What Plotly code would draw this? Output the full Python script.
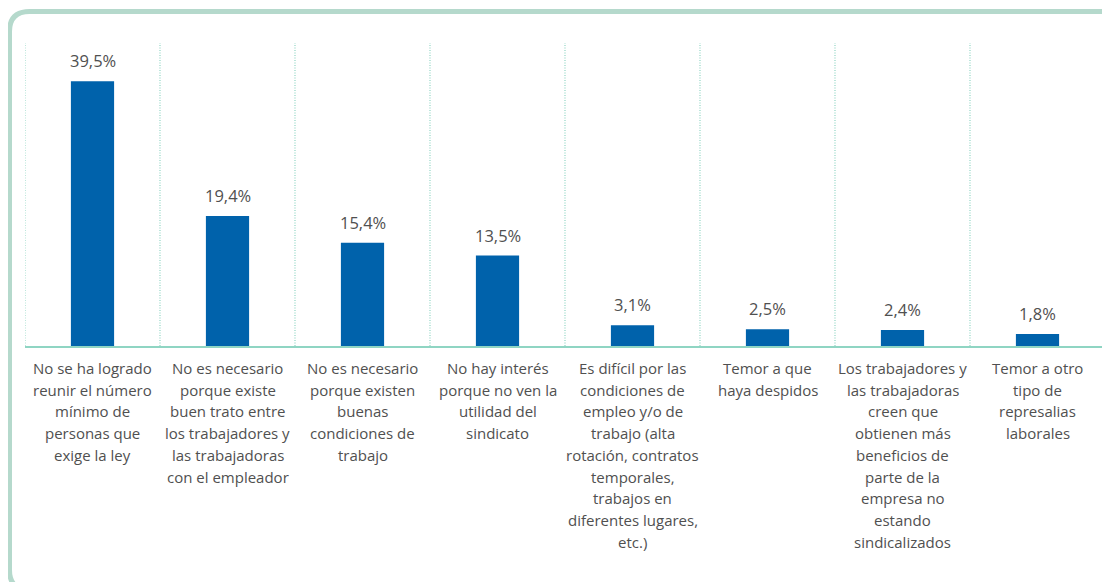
import plotly.graph_objects as go

# data
categories = [
    "No se ha logrado<br>reunir el número<br>mínimo de<br>personas que<br>exige la ley",
    "No es necesario<br>porque existe<br>buen trato entre<br>los trabajadores y<br>las trabajadoras<br>con el empleador",
    "No es necesario<br>porque existen<br>buenas<br>condiciones de<br>trabajo",
    "No hay interés<br>porque no ven la<br>utilidad del<br>sindicato",
    "Es difícil por las<br>condiciones de<br>empleo y/o de<br>trabajo (alta<br>rotación, contratos<br>temporales,<br>trabajos en<br>diferentes lugares,<br>etc.)",
    "Temor a que<br>haya despidos",
    "Los trabajadores y<br>las trabajadoras<br>creen que<br>obtienen más<br>beneficios de<br>parte de la<br>empresa no<br>estando<br>sindicalizados",
    "Temor a otro<br>tipo de<br>represalias<br>laborales",
]
values = [39.5, 19.4, 15.4, 13.5, 3.1, 2.5, 2.4, 1.8]

BLUE = "#0062ab"
TEAL = "#8fd5c3"
BORDER = "#b5d9cc"
TEXT = "#505050"
FONT = "Open Sans"

# the page body has an 8px default margin, so the figure is shrunk and shifted
OFF = 8
W, H = 1110 - OFF, 582 - OFF
L, R, T, B = 25 - OFF, 5, 43 - OFF, 236
pw, ph = W - L - R, H - T - B

x = list(range(len(values)))

fig = go.Figure(go.Bar(
    x=x, y=values,
    width=0.32,
    marker=dict(color=BLUE, line=dict(width=0)),
    hoverinfo="skip",
))

annotations = []
# value labels above each bar
for xi, v in zip(x, values):
    annotations.append(dict(
        x=xi, y=v, xref="x", yref="y",
        text=f"{v:.1f}".replace(".", ",") + "%",
        showarrow=False, yanchor="bottom", yshift=7,
        font=dict(family=FONT, size=16.5, color=TEXT),
    ))
# category labels, one annotation per line to get the looser line spacing
for xi, cat in zip(x, categories):
    for k, line in enumerate(cat.split("<br>")):
        annotations.append(dict(
            x=xi, y=0, xref="x", yref="paper",
            text=line, showarrow=False, yanchor="middle",
            yshift=-(22 + 21.7 * k),
            font=dict(family=FONT, size=15, color=TEXT),
        ))

# dotted separators between categories
shapes = [dict(
    type="line", xref="x", yref="paper",
    x0=i - 0.5, x1=i - 0.5, y0=0, y1=1,
    line=dict(color=TEAL, width=1.2, dash="1px,1.5px"),
    layer="below",
) for i in range(len(values) + 1)]


# rounded frame around the whole chart (window pixel -> paper conversion)
def px(xp):
    return (xp - OFF - L) / pw


def py(yp):
    return (H - B - (yp - OFF)) / ph


x0, y0, x1, y1, r = 9.5, 11.5, 1125, 590, 20
path = (
    f"M {px(x0)},{py(y1 - r)} L {px(x0)},{py(y0 + r)} "
    f"Q {px(x0)},{py(y0)} {px(x0 + r)},{py(y0)} "
    f"L {px(x1 - r)},{py(y0)} Q {px(x1)},{py(y0)} {px(x1)},{py(y0 + r)} "
    f"L {px(x1)},{py(y1 - r)} Q {px(x1)},{py(y1)} {px(x1 - r)},{py(y1)} "
    f"L {px(x0 + r)},{py(y1)} Q {px(x0)},{py(y1)} {px(x0)},{py(y1 - r)} Z"
)
shapes.append(dict(type="path", xref="paper", yref="paper", path=path,
                   line=dict(color=BORDER, width=5)))

fig.update_layout(
    width=W, height=H,
    margin=dict(l=L, r=R, t=T, b=B),
    paper_bgcolor="white",
    plot_bgcolor="white",
    showlegend=False,
    xaxis=dict(range=[-0.5, len(values) - 0.5], showticklabels=False,
               showgrid=False, zeroline=False, showline=True,
               linecolor=TEAL, linewidth=2.2, ticks=""),
    yaxis=dict(range=[0, 45.2], visible=False),
    annotations=annotations,
    shapes=shapes,
)

fig.write_html("out.html")
